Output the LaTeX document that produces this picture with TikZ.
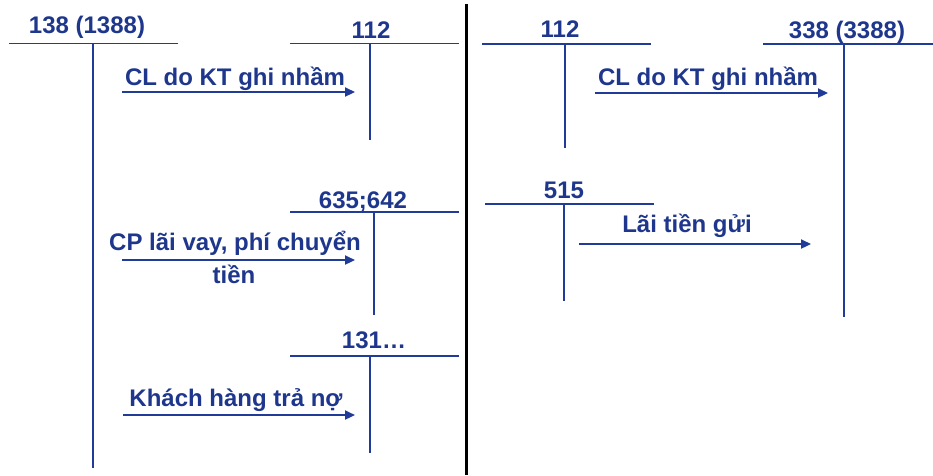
\documentclass[tikz,border=0pt]{standalone}
\usepackage{fontspec}
\setmainfont{Liberation Sans}
\usetikzlibrary{arrows.meta}

\definecolor{acctline}{RGB}{32,60,152}
\definecolor{accttext}{RGB}{30,55,140}

\begin{document}
\begin{tikzpicture}[x=1pt,y=-1pt,
    tline/.style={draw=acctline,line width=1.5pt},
    flow/.style={draw=acctline,line width=2.2pt,-{Triangle[length=10pt,width=9pt]}},
    txt/.style={text=accttext,font=\fontsize{24}{28}\selectfont\bfseries,inner sep=0pt,anchor=base}]
  \useasboundingbox (0,0) rectangle (933,475);

  % divider between the two cases
  \draw[line width=3pt] (466,4) -- (466,475);

  % T-accounts: name/label/label x/baseline/left/right/top/stem x/stem end/width
  \foreach \nm/\lb/\xc/\yb/\xl/\xr/\yt/\xs/\ye/\w in {
      a138/{138 (1388)}/87/33.5/9/178/43.5/93/468/1.5,
      a112/112/371/38/290/459/43.5/370/140/1.5,
      a635/{635;642}/363/208/290/459/212/374/315/1.5,
      a131/131…/374/348/290/459/356/370/453/1.5,
      b112/112/560/37.5/482/651/44/565/148/1.5,
      b338/{338 (3388)}/847/38/763/933/44/844/317/2.3,
      b515/515/564/198/485/654/204/564/301/1.5} {
    \node[txt] (\nm) at (\xc,\yb) {\lb};
    \draw[tline,line width=\w pt] (\xl,\yt) -- (\xr,\yt) (\xs,\yt) -- (\xs,\ye);
  }

  % entries
  \node[txt] (clA) at (235,85) {CL do KT ghi nhầm};
  \node[txt] (cpA) at (235,250) {CP lãi vay, phí chuyển};
  \node[txt] (cpB) at (234,283) {tiền};
  \node[txt] (kh) at (236,406) {Khách hàng trả nợ};
  \node[txt] (clB) at (708,85) {CL do KT ghi nhầm};
  \node[txt] (lai) at (687,232.5) {Lãi tiền gửi};

  \coordinate (s1) at (122,92);   \coordinate (e1) at (355,92);
  \coordinate (s2) at (122,260);  \coordinate (e2) at (355,260);
  \coordinate (s3) at (123,415);  \coordinate (e3) at (355,415);
  \coordinate (s4) at (595,93);   \coordinate (e4) at (828,93);
  \coordinate (s5) at (579,244);  \coordinate (e5) at (811,244);
  \foreach \i in {1,...,5}
    \draw[flow] (s\i) -- (e\i);
\end{tikzpicture}
\end{document}
